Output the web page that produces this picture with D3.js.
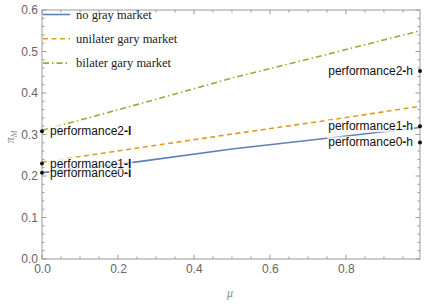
<!DOCTYPE html>
<html><head><meta charset="utf-8">
<script src="https://cdn.jsdelivr.net/npm/d3@7"></script>
<style>body{margin:0;background:#fff}</style>
</head><body>
<svg id="c" width="429" height="307"></svg>
<script>
const mu = [0, 0.25, 0.5, 0.75, 0.995];
const noGray = [0.208, 0.234, 0.265, 0.291, 0.317];
const unilater = [0.233, 0.267, 0.301, 0.334, 0.368];
const bilater = [0.310, 0.372, 0.436, 0.493, 0.550];
const seriesNames = ["no gray market", "unilater gary market", "bilater gary market"];
const pointLabels = ["performance0-l", "performance1-l", "performance2-l", "performance0-h", "performance1-h", "performance2-h"];
const pointMu = [0, 0, 0, 0.995, 0.995, 0.995];
const pointVal = [0.208, 0.230, 0.308, 0.281, 0.320, 0.453];
const xTicks = [0, 0.2, 0.4, 0.6, 0.8];
const yTicks = [0, 0.1, 0.2, 0.3, 0.4, 0.5, 0.6];

const svg = d3.select("#c");
const L = 42, R = 420, T = 10, B = 259;
const x = d3.scaleLinear().domain([0, 0.995]).range([L, R]);
const y = d3.scaleLinear().domain([0, 0.6]).range([B, T]);
const colors = ["#5E81B5", "#E19C24", "#8FB032"];
const dashes = [null, "5,3.5", "6,3,1.5,3"];
const gray = "#999";

// frame with inward ticks
const xMinor = d3.range(0, 1.0, 0.05);
const yMinor = d3.range(0, 0.601, 0.02);
const g = svg.append("g");
const isMajor = (v, step) => Math.abs(v / step - Math.round(v / step)) < 1e-6;
xMinor.forEach(v => {
  const len = isMajor(v, 0.2) ? 4.5 : 2.5;
  g.append("line").attr("x1", x(v)).attr("x2", x(v)).attr("y1", B).attr("y2", B - len).attr("stroke", gray);
  g.append("line").attr("x1", x(v)).attr("x2", x(v)).attr("y1", T).attr("y2", T + len).attr("stroke", gray);
});
yMinor.forEach(v => {
  const len = isMajor(v, 0.1) ? 4.5 : 2.5;
  g.append("line").attr("y1", y(v)).attr("y2", y(v)).attr("x1", L).attr("x2", L + len).attr("stroke", gray);
  g.append("line").attr("y1", y(v)).attr("y2", y(v)).attr("x1", R).attr("x2", R - len).attr("stroke", gray);
});
g.append("rect").attr("x", L).attr("y", T).attr("width", R - L).attr("height", B - T)
  .attr("fill", "none").attr("stroke", gray).attr("stroke-width", 1);

// tick labels
const xa = svg.append("g").attr("transform", `translate(0,${B})`)
  .call(d3.axisBottom(x).tickValues(xTicks).tickFormat(d3.format(".1f")).tickSize(0).tickPadding(5));
xa.select(".domain").remove();
xa.selectAll("text").attr("font-family", "Liberation Sans, Arial, sans-serif").attr("font-size", 12).attr("fill", "#666");
const ya = svg.append("g").attr("transform", `translate(${L},0)`)
  .call(d3.axisLeft(y).tickValues(yTicks).tickFormat(d3.format(".1f")).tickSize(0).tickPadding(4));
ya.select(".domain").remove();
ya.selectAll("text").attr("font-family", "Liberation Sans, Arial, sans-serif").attr("font-size", 12).attr("fill", "#666");

// axis titles
svg.append("text").attr("transform", `translate(14,${137}) rotate(-90)`).attr("text-anchor", "middle")
  .attr("font-family", "Liberation Serif, serif").attr("font-style", "italic").attr("font-size", 12).attr("fill", "#888")
  .text("π").append("tspan").attr("font-size", 8).attr("dy", 3).text("M");
svg.append("text").attr("x", 230).attr("y", 297).attr("text-anchor", "middle")
  .attr("font-family", "Liberation Serif, serif").attr("font-style", "italic").attr("font-size", 12).attr("fill", "#888")
  .text("μ");

// lines
svg.append("clipPath").attr("id", "pc").append("rect").attr("x", L).attr("y", T).attr("width", R - L).attr("height", B - T);
const line = d3.line().x((d, i) => x(mu[i])).y(d => y(d));
[noGray, unilater, bilater].forEach((s, i) => {
  svg.append("path").datum(s).attr("d", line).attr("fill", "none").attr("stroke", colors[i])
    .attr("stroke-width", 1.6).attr("stroke-dasharray", dashes[i]).attr("clip-path", "url(#pc)");
});

// legend
seriesNames.forEach((n, i) => {
  const yy = 14.5 + i * 24.3;
  svg.append("line").attr("x1", 43).attr("x2", 70).attr("y1", yy).attr("y2", yy).attr("stroke", colors[i])
    .attr("stroke-width", 1.6).attr("stroke-dasharray", dashes[i]);
  svg.append("text").attr("x", 76).attr("y", yy + 4).attr("font-family", "Liberation Serif, Times New Roman, serif")
    .attr("font-size", 12.5).attr("fill", "#222").text(n);
});

// labelled points
pointLabels.forEach((lab, i) => {
  const px = x(pointMu[i]), py = y(pointVal[i]);
  const left = pointMu[i] < 0.5;
  const tg = svg.append("g");
  const k = lab.lastIndexOf("-");
  const t = tg.append("text").attr("x", left ? px + 8 : px - 7).attr("y", py + 4)
    .attr("text-anchor", left ? "start" : "end")
    .attr("font-family", "Liberation Sans, Arial, sans-serif").attr("font-size", 12).attr("fill", "#111");
  t.append("tspan").text(lab.slice(0, k));
  t.append("tspan").attr("font-weight", "bold").text("-");
  t.append("tspan").attr("font-weight", lab.endsWith("l") ? "bold" : "normal").text(lab.slice(k + 1));
  const bb = t.node().getBBox();
  tg.insert("rect", "text").attr("x", bb.x - 1).attr("y", py - 6).attr("width", bb.width + 2).attr("height", 12)
    .attr("fill", "#fff").attr("fill-opacity", 0.75);
  svg.append("circle").attr("cx", px).attr("cy", py).attr("r", 2).attr("fill", "#111");
});
</script>
</body></html>
